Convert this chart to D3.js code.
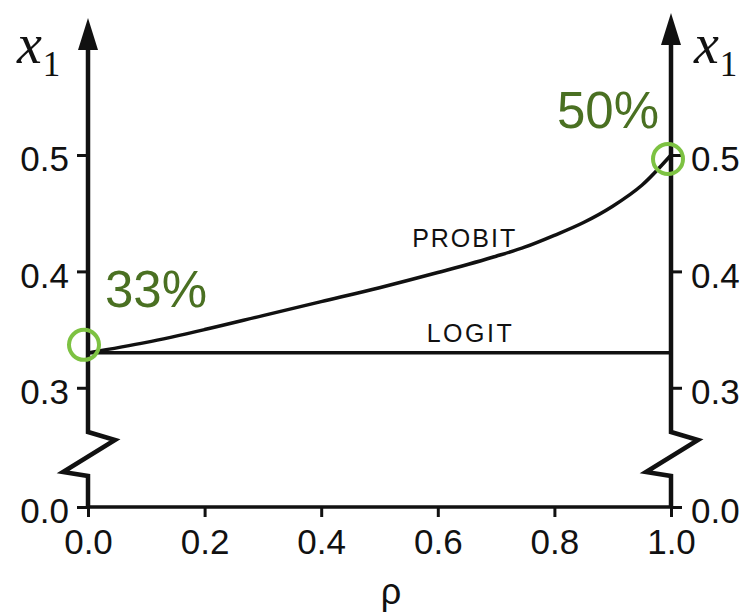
<!DOCTYPE html>
<html>
<head>
<meta charset="utf-8">
<script src="https://cdn.jsdelivr.net/npm/d3@7"></script>
<style>
  body { margin: 0; background: #fff; }
  .tick text { font-family: "Liberation Sans", Arial, sans-serif; font-size: 35px; fill: #111; }
  .tick line { stroke: #111; stroke-width: 3px; }
</style>
</head>
<body>
<div id="chart"></div>
<script>
// values
var rho = [0, 0.1, 0.2, 0.3, 0.4, 0.5, 0.6, 0.7, 0.75, 0.8, 0.85, 0.9, 0.95, 1.0];
var probit = [0.330, 0.339, 0.350, 0.362, 0.374, 0.386, 0.399, 0.413, 0.421, 0.431, 0.442, 0.456, 0.474, 0.500];
var logit = [0.330, 0.330, 0.330, 0.330, 0.330, 0.330, 0.330, 0.330, 0.330, 0.330, 0.330, 0.330, 0.330, 0.330];
var xTicks = [0, 0.2, 0.4, 0.6, 0.8, 1.0];
var yTicks = [0, 0.3, 0.4, 0.5];
var highlights = [{rho: 0, value: 0.330, label: "33%"}, {rho: 1, value: 0.500, label: "50%"}];

var width = 747, height = 612;
var svg = d3.select("#chart").append("svg")
    .attr("width", width)
    .attr("height", height);

// x scale, y scale is broken between 0 and 0.26
var x = d3.scaleLinear().domain([0, 1]).range([88, 671]);
var y = d3.scaleLinear().domain([0, 0.262, 0.5]).range([507, 432, 155]);
var yBreak = 0.262;

var ink = "#111";
var darkGreen = "#4a7022";
var lightGreen = "#7dc242";

// x axis
svg.append("g")
    .attr("transform", "translate(0," + y(0) + ")")
    .call(d3.axisBottom(x).tickValues(xTicks).tickSize(10).tickPadding(12).tickFormat(d3.format(".1f")))
    .call(function(g){ g.select(".domain").remove(); });

// left and right y axes
svg.append("g")
    .attr("transform", "translate(" + x(0) + ",0)")
    .call(d3.axisLeft(y).tickValues(yTicks).tickSize(11).tickPadding(8).tickFormat(d3.format(".1f")))
    .call(function(g){ g.select(".domain").remove(); g.selectAll(".tick text").attr("dy", "0.45em"); });

svg.append("g")
    .attr("transform", "translate(" + x(1) + ",0)")
    .call(d3.axisRight(y).tickValues(yTicks).tickSize(11).tickPadding(9).tickFormat(d3.format(".1f")))
    .call(function(g){ g.select(".domain").remove(); g.selectAll(".tick text").attr("dy", "0.45em"); });

// baseline
svg.append("line")
    .attr("x1", x(0)).attr("x2", x(1))
    .attr("y1", y(0)).attr("y2", y(0))
    .style("stroke", ink).style("stroke-width", 3.5);

// axis lines with the break zigzag and arrow
function axisLine(ax, tip) {
  var p = d3.path();
  p.moveTo(ax, tip + 20);
  p.lineTo(ax, y(yBreak));
  p.lineTo(ax + 27, y(yBreak) + 8);
  p.lineTo(ax - 25, y(yBreak) + 40);
  p.lineTo(ax, y(yBreak) + 44);
  p.lineTo(ax, y(0));
  svg.append("path")
      .attr("d", p.toString())
      .style("fill", "none")
      .style("stroke", ink)
      .style("stroke-width", 4.5)
      .style("stroke-linejoin", "miter");
  svg.append("path")
      .attr("d", "M" + ax + "," + tip + "L" + (ax - 10) + "," + (tip + 32) + "L" + (ax + 10) + "," + (tip + 32) + "Z")
      .style("fill", ink);
}
axisLine(x(0), 18);
axisLine(x(1), 13);

// curves
var line = d3.line()
    .x(function(d){ return x(d[0]); })
    .y(function(d){ return y(d[1]); })
    .curve(d3.curveMonotoneX);

svg.append("path")
    .datum(d3.zip(rho, logit))
    .attr("d", line)
    .style("fill", "none").style("stroke", ink).style("stroke-width", 3.5);

svg.append("path")
    .datum(d3.zip(rho, probit))
    .attr("d", line)
    .style("fill", "none").style("stroke", ink).style("stroke-width", 3.5);

// curve labels
svg.append("text")
    .attr("x", x(0.556)).attr("y", y(0.421))
    .style("font-family", "Liberation Sans, Arial, sans-serif")
    .style("font-size", "25px").style("letter-spacing", "2px")
    .style("fill", ink)
    .text("PROBIT");
svg.append("text")
    .attr("x", x(0.581)).attr("y", y(0.3395))
    .style("font-family", "Liberation Sans, Arial, sans-serif")
    .style("font-size", "25px").style("letter-spacing", "2.5px")
    .style("fill", ink)
    .text("LOGIT");

// axis titles
function x1Label(left, base) {
  var t = svg.append("text")
      .attr("x", left).attr("y", base)
      .style("font-family", "Liberation Serif, Times New Roman, serif")
      .style("fill", ink);
  t.append("tspan").style("font-style", "italic").style("font-size", "56px").text("x");
  t.append("tspan").attr("dy", 13).attr("dx", 1).style("font-size", "35px").text("1");
}
x1Label(17, 63);
x1Label(694, 63);

svg.append("text")
    .attr("x", 391).attr("y", 604)
    .attr("text-anchor", "middle")
    .style("font-family", "Liberation Sans, Arial, sans-serif")
    .style("font-size", "36px")
    .style("fill", ink)
    .text("\u03c1");

// highlight circles and percentages
var offsets = [{cx: -4, cy: -8, tx: 17, ty: -46}, {cx: -3, cy: 4, tx: -114, ty: -27}];
highlights.forEach(function(h, i){
  var o = offsets[i];
  svg.append("circle")
      .attr("cx", x(h.rho) + o.cx)
      .attr("cy", y(h.value) + o.cy)
      .attr("r", 15)
      .style("fill", "none")
      .style("stroke", lightGreen)
      .style("stroke-width", 4);
  svg.append("text")
      .attr("x", x(h.rho) + o.tx)
      .attr("y", y(h.value) + o.ty)
      .style("font-family", "Liberation Sans, Arial, sans-serif")
      .style("font-size", "51px")
      .style("fill", darkGreen)
      .text(h.label);
});
</script>
</body>
</html>
